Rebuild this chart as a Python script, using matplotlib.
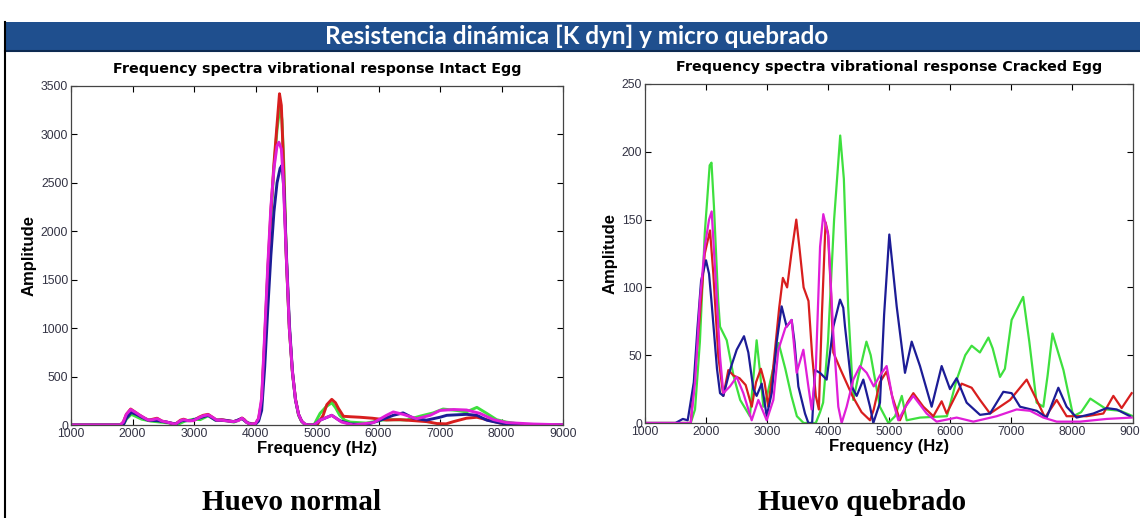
import matplotlib
matplotlib.use("Agg")
import matplotlib.pyplot as plt
from matplotlib.patches import Rectangle
from matplotlib.lines import Line2D

# ---- data: (Hz, amplitude) ----
intact_red = [(1000,0),(1800,0),(1850,30),(1900,110),(1970,165),(2050,130),(2120,100),(2200,70),(2260,50),(2330,60),(2400,70),(2480,40),(2560,30),(2650,15),(2700,10),(2780,50),(2830,60),(2900,45),(2990,45),(3080,80),(3150,100),(3230,110),(3300,80),(3370,50),(3450,55),(3550,45),(3640,35),(3720,50),(3780,72),(3820,55),(3860,25),(3920,10),(4000,15),(4050,60),(4100,250),(4150,900),(4200,1600),(4250,2200),(4300,2700),(4350,3100),(4390,3420),(4420,3300),(4450,2800),(4500,1750),(4550,1000),(4600,550),(4650,270),(4700,110),(4750,40),(4800,10),(4850,0),(5000,0),(5100,100),(5160,210),(5240,265),(5300,230),(5350,170),(5430,90),(5550,85),(5700,80),(5900,70),(6130,52),(6350,55),(6570,45),(6780,35),(6950,15),(7100,12),(7220,35),(7430,70),(7600,80),(7760,55),(7980,20),(8200,5),(8400,0),(9000,0)]
intact_green = [(1000,0),(1850,0),(1900,60),(1980,110),(2050,90),(2150,60),(2300,40),(2450,30),(2600,20),(2750,10),(2850,40),(3000,60),(3100,55),(3230,95),(3350,50),(3500,45),(3650,30),(3780,65),(3880,20),(4000,10),(4050,50),(4100,230),(4150,850),(4200,1550),(4250,2150),(4300,2650),(4350,3050),(4400,3300),(4430,3150),(4460,2700),(4500,1750),(4550,1000),(4600,540),(4650,260),(4700,100),(4750,35),(4800,8),(4850,0),(4950,0),(5050,120),(5150,190),(5240,230),(5300,180),(5370,100),(5450,50),(5540,30),(5800,20),(6080,52),(6240,55),(6460,52),(6680,92),(6890,125),(7050,165),(7270,150),(7430,135),(7600,182),(7760,120),(7920,55),(8080,30),(8300,10),(8500,0),(9000,0)]
intact_blue = [(1000,0),(1850,0),(1900,70),(1980,130),(2060,110),(2150,80),(2250,50),(2400,45),(2550,30),(2700,10),(2800,45),(2950,45),(3100,75),(3230,100),(3350,50),(3480,50),(3650,35),(3780,68),(3860,25),(3950,5),(4000,10),(4050,40),(4100,150),(4150,600),(4200,1200),(4250,1750),(4300,2200),(4350,2500),(4400,2650),(4430,2680),(4460,2450),(4500,1800),(4550,1050),(4600,560),(4650,260),(4700,110),(4750,40),(4800,10),(4850,0),(4950,0),(5050,50),(5240,100),(5370,45),(5540,10),(5810,5),(6030,50),(6240,100),(6400,125),(6570,70),(6780,50),(7000,80),(7110,100),(7430,110),(7600,100),(7760,50),(7980,20),(8190,5),(8400,0),(9000,0)]
intact_magenta = [(1000,0),(1800,0),(1850,30),(1900,110),(1970,160),(2050,130),(2120,100),(2200,70),(2260,50),(2330,55),(2400,65),(2480,40),(2560,30),(2650,15),(2700,10),(2780,45),(2830,55),(2900,45),(2990,45),(3080,75),(3150,95),(3230,105),(3300,80),(3370,50),(3450,50),(3550,40),(3640,35),(3720,45),(3780,70),(3820,50),(3860,25),(3920,10),(4000,15),(4050,70),(4100,280),(4150,950),(4200,1650),(4250,2250),(4300,2650),(4350,2880),(4380,2920),(4420,2850),(4450,2550),(4500,1750),(4550,1000),(4600,550),(4650,260),(4700,110),(4750,40),(4800,10),(4850,0),(4950,0),(5050,50),(5240,100),(5400,30),(5590,0),(5920,25),(6130,100),(6240,135),(6400,110),(6620,65),(6840,100),(7000,150),(7220,160),(7430,155),(7650,120),(7870,55),(8080,25),(8520,10),(9000,2)]

cracked_green = [(1000,0),(1750,0),(1820,10),(1900,60),(1980,140),(2060,190),(2090,192),(2130,160),(2200,90),(2230,71),(2340,61),(2450,35),(2560,17),(2720,5),(2780,35),(2830,61),(2880,40),(2940,12),(3000,20),(3100,40),(3190,59),(3300,40),(3400,20),(3490,5),(3600,0),(3800,0),(3870,8),(3920,15),(4000,60),(4100,150),(4200,212),(4260,180),(4330,86),(4415,17),(4500,35),(4630,60),(4700,50),(4850,12),(4990,0),(5100,5),(5210,20),(5290,2),(5510,4),(5950,5),(6110,32),(6250,50),(6355,57),(6490,52),(6630,63),(6700,55),(6820,34),(6900,40),(7010,76),(7200,93),(7300,60),(7420,15),(7530,12),(7600,35),(7680,66),(7860,39),(8020,5),(8150,8),(8300,18),(8570,10),(8790,9),(9000,5)]
cracked_red = [(1000,0),(1750,0),(1820,37),(1900,80),(1980,125),(2066,142),(2120,110),(2202,49),(2284,20),(2366,39),(2450,35),(2550,33),(2650,28),(2750,12),(2820,30),(2900,40),(2960,30),(3020,12),(3100,40),(3200,85),(3260,107),(3330,100),(3400,125),(3480,150),(3530,130),(3600,100),(3680,90),(3740,50),(3800,20),(3850,10),(3900,80),(3960,148),(4000,140),(4050,95),(4087,52),(4200,40),(4300,30),(4400,20),(4550,8),(4689,2),(4750,10),(4850,30),(4961,38),(5050,20),(5180,2),(5300,15),(5399,22),(5563,12),(5727,5),(5863,16),(5945,7),(6191,29),(6355,26),(6492,17),(6656,7),(6820,12),(6984,17),(7257,32),(7421,17),(7558,4),(7749,17),(7912,5),(8240,5),(8514,7),(8678,20),(8814,11),(8978,22)]
cracked_blue = [(1000,0),(1500,0),(1620,3),(1700,2),(1800,30),(1860,70),(1920,105),(2000,120),(2050,110),(2093,88),(2180,40),(2230,22),(2284,20),(2393,39),(2503,54),(2623,64),(2694,52),(2776,25),(2830,20),(2913,29),(2995,5),(3077,22),(3160,60),(3240,86),(3322,71),(3404,76),(3450,60),(3514,27),(3623,7),(3678,0),(3740,0),(3787,39),(3869,37),(3978,32),(4087,71),(4197,91),(4250,85),(4279,71),(4388,27),(4470,20),(4579,32),(4689,12),(4743,0),(4852,15),(4920,80),(5005,139),(5060,115),(5126,86),(5262,37),(5372,60),(5508,42),(5699,12),(5863,42),(6000,25),(6109,33),(6273,15),(6492,6),(6656,7),(6874,23),(7011,22),(7148,12),(7421,9),(7585,4),(7776,26),(7912,12),(8076,4),(8350,7),(8568,11),(8732,10),(8951,5)]
cracked_magenta = [(1000,0),(1750,0),(1820,30),(1900,90),(1980,130),(2050,150),(2093,156),(2140,120),(2230,49),(2284,22),(2393,27),(2503,34),(2612,22),(2749,2),(2858,17),(2995,2),(3104,17),(3186,54),(3300,70),(3404,76),(3486,37),(3596,54),(3678,27),(3732,10),(3800,40),(3870,130),(3923,154),(4005,138),(4087,66),(4169,12),(4224,0),(4306,12),(4415,32),(4525,42),(4634,37),(4750,27),(4850,35),(4961,42),(5071,15),(5153,2),(5270,12),(5399,20),(5617,7),(5781,1),(6109,4),(6383,1),(6765,5),(7093,10),(7312,9),(7530,4),(7749,1),(8131,1),(8568,3),(8978,4)]

header = 'Resistencia dinámica [K dyn] y micro quebrado'
titles = ['Frequency spectra vibrational response Intact Egg',
          'Frequency spectra vibrational response Cracked Egg']
captions = ['Huevo normal', 'Huevo quebrado']
ytick_sets = [list(range(0, 3501, 500)), list(range(0, 251, 50))]
xticks = list(range(1000, 9001, 1000))

RED, GREEN, BLUE, MAGENTA = '#d81e1e', '#3ee03e', '#1c1c96', '#e01ed8'

fig = plt.figure(figsize=(11.4, 5.18), dpi=100)
W, H = 1140, 518

# header bar and frame
fig.patches.append(Rectangle((5 / W, 1 - 51 / H), 1 - 5 / W, 29 / H,
                             transform=fig.transFigure, facecolor='#1f4f8e',
                             edgecolor='none'))
fig.lines.append(Line2D([5 / W, 1], [1 - 51 / H, 1 - 51 / H], transform=fig.transFigure,
                        color='#0d2a52', lw=1.5))
fig.lines.append(Line2D([5 / W, 5 / W], [0, 1 - 22 / H], transform=fig.transFigure,
                        color='black', lw=1.5))
fig.text(577 / W, 1 - 36 / H, header, color='white', fontsize=17.5,
         fontweight='bold', family='Lato', ha='center', va='center')


def panel(rect, series, yticks, title, lw):
    ax = fig.add_axes(rect)
    for data, c in series:
        ax.plot([p[0] for p in data], [p[1] for p in data], color=c, lw=lw)
    ax.set_xlim(1000, 9000)
    ax.set_ylim(yticks[0], yticks[-1])
    ax.set_xticks(xticks)
    ax.set_yticks(yticks)
    ax.tick_params(direction='in', length=4, width=0.8, top=True, right=True,
                   labelsize=8.8, labelcolor='#333344', pad=2)
    for lab in ax.get_xticklabels() + ax.get_yticklabels():
        lab.set_family('Liberation Sans Narrow')
        lab.set_family(['Liberation Sans Narrow', 'Liberation Sans'])
    for s in ax.spines.values():
        s.set_color('#444444')
        s.set_linewidth(0.9)
    ax.set_title(title, fontsize=10.3, fontweight='bold', family='DejaVu Sans', pad=9)
    ax.set_xlabel('Frequency (Hz)', fontsize=12, fontweight='bold',
                  family='Liberation Sans', labelpad=1)
    ax.set_ylabel('Amplitude', fontsize=12, fontweight='bold',
                  family='Liberation Sans', labelpad=3)
    return ax


panel([71 / W, 1 - 425 / H, 492 / W, 339 / H],
      [(intact_green, GREEN), (intact_red, RED), (intact_blue, BLUE), (intact_magenta, MAGENTA)],
      ytick_sets[0], titles[0], 2.1)
panel([645 / W, 1 - 423 / H, 488 / W, 339 / H],
      [(cracked_green, GREEN), (cracked_red, RED), (cracked_blue, BLUE), (cracked_magenta, MAGENTA)],
      ytick_sets[1], titles[1], 1.6)

fig.text(291 / W, 1 - 503 / H, captions[0], fontsize=21, fontweight='bold',
         family='Liberation Serif', ha='center', va='center')
fig.text(862 / W, 1 - 503 / H, captions[1], fontsize=21, fontweight='bold',
         family='Liberation Serif', ha='center', va='center')

fig.savefig('out.png', dpi=100)
